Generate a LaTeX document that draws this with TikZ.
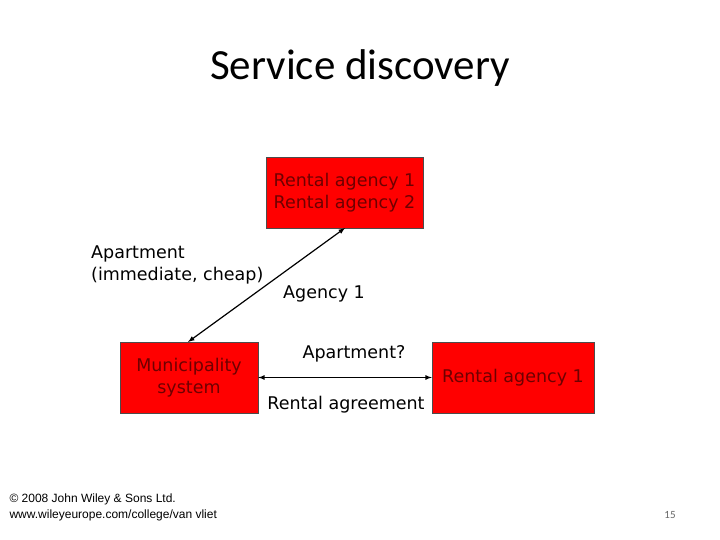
\documentclass[tikz,border=0pt]{standalone}
\usepackage{fontspec}
\setmainfont{DejaVu Sans}
\newfontfamily\titlefont{Carlito}
\newfontfamily\arialfont{Liberation Sans}
\definecolor{boxred}{RGB}{255,0,0}
\definecolor{txtred}{RGB}{110,0,0}
\begin{document}
\begin{tikzpicture}[x=1pt,y=-1pt,
  redbox/.style={draw=black!70,fill=boxred,text=txtred,font=\fontsize{17.5}{22}\selectfont,align=center,inner sep=0pt},
  lbl/.style={font=\fontsize{17.5}{22}\selectfont,align=left,inner sep=0pt},
  conn/.style={<->,>=latex,line width=1.2pt}]
\useasboundingbox (0,0) rectangle (720,540);
\node[font=\titlefont\fontsize{43}{50}\selectfont] (title) at (360,68) {Service discovery};
\node[redbox,minimum width=157pt,minimum height=71pt] (top) at (344.5,192.5) {Rental agency 1\\Rental agency 2};
\node[redbox,minimum width=138pt,minimum height=71pt] (mun) at (189,377.5) {Municipality\\system};
\node[redbox,minimum width=162pt,minimum height=71pt] (ra) at (513,377.5) {Rental agency 1};
\coordinate (d1) at (188,342);
\coordinate (d2) at (345,228);
\draw[conn] (d1) -- (d2);
\draw[conn] (mun.east) -- (ra.west);
\node[lbl,anchor=west] (q) at (91,265) {Apartment\\(immediate, cheap)};
\node[lbl,anchor=west] (a1) at (283,294) {Agency 1};
\node[lbl] (ap) at (354,354) {Apartment?};
\node[lbl] (agr) at (346,405) {Rental agreement};
\node[font=\arialfont\fontsize{12}{16}\selectfont,align=left,anchor=west] (copy) at (6,507) {© 2008 John Wiley \& Sons Ltd.\\www.wileyeurope.com/college/van vliet};
\node[font=\titlefont\fontsize{11}{13}\selectfont,text=black!60] (pg) at (670,515) {15};
\end{tikzpicture}
\end{document}
